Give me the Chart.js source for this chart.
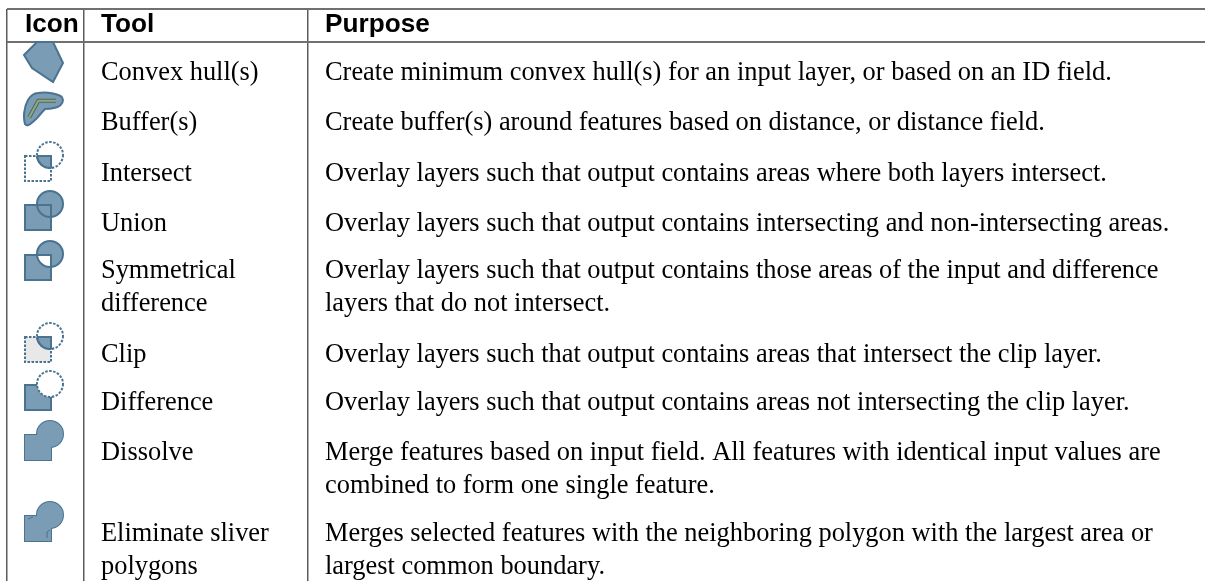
<!DOCTYPE html>
<html>
<head>
<meta charset="utf-8">
<style>
html, body { margin: 0; padding: 0; background: #fff; }
canvas { display: block; }
</style>
<script src="https://cdn.jsdelivr.net/npm/chart.js@4"></script>
</head>
<body>
<canvas id="myChart" width="1205" height="581"></canvas>
<script>
// table content
const headers = ['Icon', 'Tool', 'Purpose'];
const iconKinds = ['hull', 'buffer', 'intersect', 'union', 'symdiff', 'clip', 'difference', 'dissolve', 'sliver'];
const toolLines = [
  ['Convex hull(s)'],
  ['Buffer(s)'],
  ['Intersect'],
  ['Union'],
  ['Symmetrical', 'difference'],
  ['Clip'],
  ['Difference'],
  ['Dissolve'],
  ['Eliminate sliver', 'polygons']
];
const purposeLines = [
  ['Create minimum convex hull(s) for an input layer, or based on an ID field.'],
  ['Create buffer(s) around features based on distance, or distance field.'],
  ['Overlay layers such that output contains areas where both layers intersect.'],
  ['Overlay layers such that output contains intersecting and non-intersecting areas.'],
  ['Overlay layers such that output contains those areas of the input and difference', 'layers that do not intersect.'],
  ['Overlay layers such that output contains areas that intersect the clip layer.'],
  ['Overlay layers such that output contains areas not intersecting the clip layer.'],
  ['Merge features based on input field. All features with identical input values are', 'combined to form one single feature.'],
  ['Merges selected features with the neighboring polygon with the largest area or', 'largest common boundary.']
];

// table layout, read in picture units (the axes run 1:1 with the page)
const columnEdges = [7, 84, 308];
const ruleRows = [9, 42];
const rowBaselines = [80, 130, 181, 231, 278, 362, 410, 460, 541];
const lineStep = 33;
const iconX = 44;
const iconRows = [63, 113, 162, 211, 261, 343, 391, 441, 522];
const headerBaseline = 32;
const headerX = [25, 101, 325];
const toolX = 101;
const purposeX = 325;

const FILL = '#7a9cb4';
const EDGE = '#4a7390';
const BODY_FONT = '26.4px "Liberation Serif"';
const HEAD_FONT = 'bold 26.2px "Liberation Sans"';

function square(c) { c.beginPath(); c.rect(2, 16, 26, 25); }
function circle(c) { c.beginPath(); c.arc(27, 15, 13, 0, Math.PI * 2); }

function drawIcon(kind) {
  const raw = document.createElement('canvas');
  raw.width = 42;
  raw.height = 44;
  const c = raw.getContext('2d');
  c.lineWidth = 2;
  c.strokeStyle = EDGE;
  c.fillStyle = FILL;

  const overlapFill = () => {
    c.save();
    square(c);
    c.clip();
    circle(c);
    c.fill();
    c.restore();
  };
  const overlapEdge = () => {
    c.save();
    square(c);
    c.clip();
    circle(c);
    c.stroke();
    c.restore();
    c.save();
    circle(c);
    c.clip();
    square(c);
    c.stroke();
    c.restore();
  };

  if (kind === 'hull') {
    c.beginPath();
    [[1, 14], [14, 1], [30, 1], [40, 22], [30, 41], [9, 27]].forEach((p, i) => {
      if (i) c.lineTo(p[0], p[1]); else c.moveTo(p[0], p[1]);
    });
    c.closePath();
    c.fill();
    c.stroke();
  } else if (kind === 'buffer') {
    c.beginPath();
    c.moveTo(2, 33);
    c.bezierCurveTo(0, 26, 1, 16, 5, 9);
    c.bezierCurveTo(8, 4, 11, 2, 15, 2);
    c.bezierCurveTo(22, 1, 40, 2, 40, 9);
    c.bezierCurveTo(40, 13, 36, 16, 31, 17);
    c.bezierCurveTo(27, 18, 24, 18, 22, 18);
    c.bezierCurveTo(18, 22, 15, 27, 11, 30);
    c.bezierCurveTo(7, 33, 5, 36, 2, 33);
    c.closePath();
    c.fill();
    c.stroke();
    const spine = () => {
      c.beginPath();
      c.moveTo(6.3, 26.3);
      c.lineTo(15.3, 9.7);
      c.lineTo(33, 9.7);
    };
    c.lineWidth = 4;
    c.strokeStyle = '#56645f';
    spine();
    c.stroke();
    c.lineWidth = 2;
    c.strokeStyle = '#86ad7e';
    spine();
    c.stroke();
  } else if (kind === 'intersect' || kind === 'clip') {
    if (kind === 'clip') {
      c.fillStyle = '#e8e8e8';
      square(c);
      c.fill();
      c.fillStyle = FILL;
    }
    overlapFill();
    c.setLineDash([2.5, 1.5]);
    square(c);
    c.stroke();
    circle(c);
    c.stroke();
    c.setLineDash([]);
    overlapEdge();
  } else if (kind === 'union') {
    square(c);
    c.fill();
    circle(c);
    c.fill();
    square(c);
    c.stroke();
    circle(c);
    c.stroke();
  } else if (kind === 'symdiff') {
    square(c);
    c.fill();
    circle(c);
    c.fill();
    c.fillStyle = '#fff';
    overlapFill();
    square(c);
    c.stroke();
    circle(c);
    c.stroke();
  } else if (kind === 'difference') {
    square(c);
    c.fill();
    square(c);
    c.stroke();
    c.fillStyle = '#fff';
    circle(c);
    c.fill();
    c.setLineDash([2.5, 1.5]);
    circle(c);
    c.stroke();
  } else {
    square(c);
    c.stroke();
    circle(c);
    c.stroke();
    square(c);
    c.fill();
    circle(c);
    c.fill();
    if (kind === 'sliver') {
      c.lineWidth = 1;
      c.beginPath();
      c.moveTo(5, 19);
      c.lineTo(10, 17);
      c.moveTo(24, 38);
      c.lineTo(24, 32);
      c.lineTo(27, 30);
      c.stroke();
    }
  }

  // the reference icons are resampled bitmaps, soften the edges a little
  const cv = document.createElement('canvas');
  cv.width = raw.width;
  cv.height = raw.height;
  const out = cv.getContext('2d');
  out.filter = 'blur(0.45px)';
  out.drawImage(raw, 0, 0);
  return cv;
}

// one point for every line of text, the plugin below writes the label on it
function linePoints(rows, x) {
  const points = [];
  rows.forEach((lines, r) => {
    lines.forEach((text, l) => {
      points.push({ x: x, y: rowBaselines[r] + l * lineStep, text: text });
    });
  });
  return points;
}

const tableText = {
  id: 'tableText',
  afterDatasetsDraw(chart) {
    const ctx = chart.ctx;
    ctx.save();
    ctx.fillStyle = '#000';
    ctx.textAlign = 'left';
    ctx.textBaseline = 'alphabetic';
    chart.data.datasets.forEach((ds, i) => {
      if (!ds.textFont) return;
      ctx.font = ds.textFont;
      chart.getDatasetMeta(i).data.forEach((el, j) => {
        ctx.fillText(ds.data[j].text, el.x, el.y);
      });
    });
    ctx.restore();
  }
};

new Chart(document.getElementById('myChart'), {
  type: 'scatter',
  data: {
    datasets: [
      {
        label: 'Icon',
        data: iconKinds.map((k, i) => ({ x: iconX, y: iconRows[i] })),
        pointStyle: iconKinds.map(drawIcon),
        pointRadius: 21
      },
      {
        label: 'Header',
        data: headers.map((h, i) => ({ x: headerX[i], y: headerBaseline, text: h })),
        pointRadius: 0,
        textFont: HEAD_FONT
      },
      { label: 'Tool', data: linePoints(toolLines, toolX), pointRadius: 0, textFont: BODY_FONT },
      { label: 'Purpose', data: linePoints(purposeLines, purposeX), pointRadius: 0, textFont: BODY_FONT }
    ]
  },
  options: {
    responsive: false,
    animation: false,
    events: [],
    layout: { autoPadding: false, padding: { left: 7, top: 9 } },
    plugins: { legend: { display: false }, tooltip: { enabled: false } },
    scales: {
      x: {
        type: 'linear',
        min: 7,
        max: 1205,
        afterBuildTicks: axis => { axis.ticks = columnEdges.map(v => ({ value: v })); },
        ticks: { display: false },
        border: { display: false },
        grid: { color: '#5c5c5c', lineWidth: 1.5, drawTicks: false }
      },
      y: {
        type: 'linear',
        min: 9,
        max: 581,
        reverse: true,
        afterBuildTicks: axis => { axis.ticks = ruleRows.map(v => ({ value: v })); },
        ticks: { display: false },
        border: { display: false },
        grid: { color: '#707070', lineWidth: 2, drawTicks: false }
      }
    }
  },
  plugins: [tableText]
});
</script>
</body>
</html>
